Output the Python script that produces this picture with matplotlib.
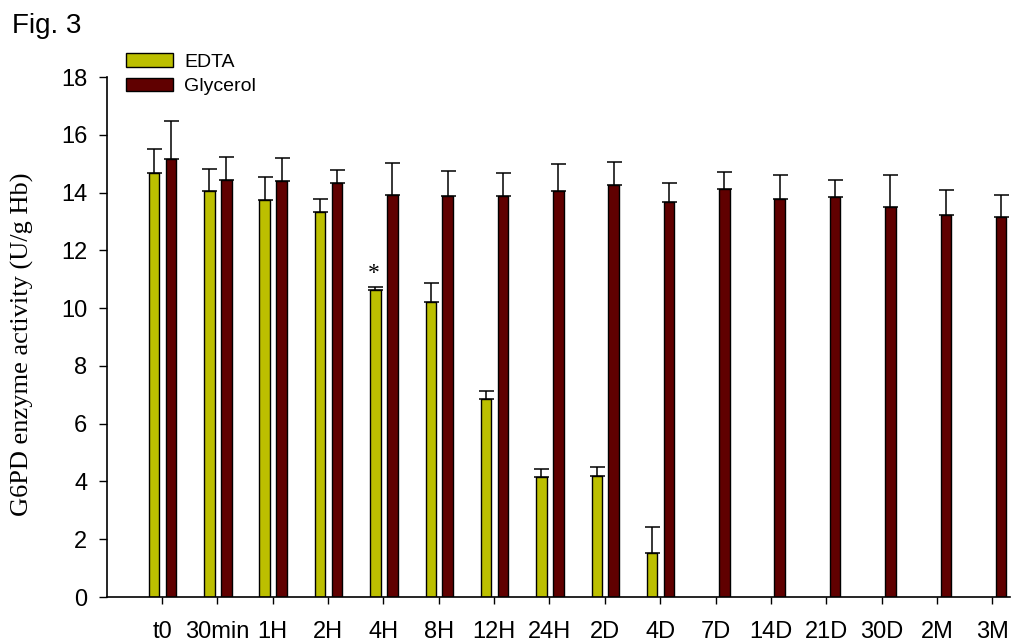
import numpy as np
import matplotlib
matplotlib.use("Agg")
import matplotlib.pyplot as plt
from matplotlib.patches import Patch

# Sampling time points
categories = ['t0', '30min', '1H', '2H', '4H', '8H', '12H', '24H', '2D', '4D',
              '7D', '14D', '21D', '30D', '2M', '3M']

# G6PD activity (U/g Hb), mean and SD
edta_mean = [14.69, 14.05, 13.75, 13.33, 10.63, 10.20, 6.84, 4.17, 4.20, 1.51]
edta_sd = [0.82, 0.76, 0.80, 0.45, 0.11, 0.67, 0.29, 0.26, 0.30, 0.92]

glycerol_mean = [15.17, 14.45, 14.40, 14.33, 13.93, 13.87, 13.88, 14.05, 14.27,
                 13.66, 14.11, 13.78, 13.83, 13.50, 13.23, 13.14]
glycerol_sd = [1.30, 0.77, 0.81, 0.44, 1.08, 0.88, 0.81, 0.95, 0.80,
               0.67, 0.61, 0.83, 0.60, 1.11, 0.85, 0.78]

y_ticks = [0, 2, 4, 6, 8, 10, 12, 14, 16, 18]

EDTA_COLOR = '#bcbf00'
GLY_COLOR = '#600000'

fig = plt.figure(figsize=(10.11, 6.43), dpi=100)
ax = fig.add_axes([106.7 / 1011, 46 / 643, (1010 - 106.7) / 1011, (597 - 77) / 643])

x = np.arange(len(categories))
xe = np.arange(len(edta_mean))
width = 0.19

err_kw = dict(ecolor='black', elinewidth=1.1, capsize=5.4, capthick=1.1)
ax.bar(xe - 0.145, edta_mean, width, color=EDTA_COLOR, edgecolor='black',
       linewidth=1.0, yerr=[np.zeros(len(edta_sd)), edta_sd], error_kw=err_kw, zorder=2)
ax.bar(x + 0.16, glycerol_mean, width, color=GLY_COLOR, edgecolor='black',
       linewidth=1.0, yerr=[np.zeros(len(glycerol_sd)), glycerol_sd], error_kw=err_kw, zorder=2)

# Significance marker over the 4H EDTA bar
ax.text(4 - 0.17, edta_mean[4] + edta_sd[4] + 0.45, '*', ha='center', va='center',
        fontsize=17, family='Liberation Serif')

ax.set_xlim(-1, 15.32)
ax.set_ylim(0, 18)
ax.set_xticks(x)
ax.set_xticklabels(categories, family='Liberation Sans', fontsize=17)
ax.set_yticks(y_ticks)
ax.set_yticklabels([str(v) for v in y_ticks], family='Liberation Sans', fontsize=17)

ax.tick_params(axis='x', direction='out', length=5, width=1.0, pad=12.5)
ax.tick_params(axis='y', direction='out', length=5.5, width=1.0, pad=8.5)

for side in ('top', 'right'):
    ax.spines[side].set_visible(False)
for side in ('left', 'bottom'):
    ax.spines[side].set_linewidth(1.2)

ax.set_ylabel('G6PD enzyme activity (U/g Hb)', family='Liberation Serif', fontsize=19)
ax.yaxis.set_label_coords(-(106.7 - 34) / (1010 - 106.7), (597 - 344) / 520)

handles = [Patch(facecolor=EDTA_COLOR, edgecolor='black', linewidth=1.0, label='EDTA'),
           Patch(facecolor=GLY_COLOR, edgecolor='black', linewidth=1.0, label='Glycerol')]
fig.legend(handles=handles, loc='upper left', bbox_to_anchor=(126 / 1011, 1 - 53 / 643),
           frameon=False, borderpad=0, borderaxespad=0, handlelength=2.4,
           handleheight=0.72, handletextpad=0.6, labelspacing=0.35,
           prop={'family': 'Liberation Sans', 'size': 14})

fig.text(12 / 1011, 1 - 33 / 643, 'Fig. 3', family='Liberation Sans', fontsize=20,
         ha='left', va='baseline')

fig.savefig('out.png', dpi=100)
